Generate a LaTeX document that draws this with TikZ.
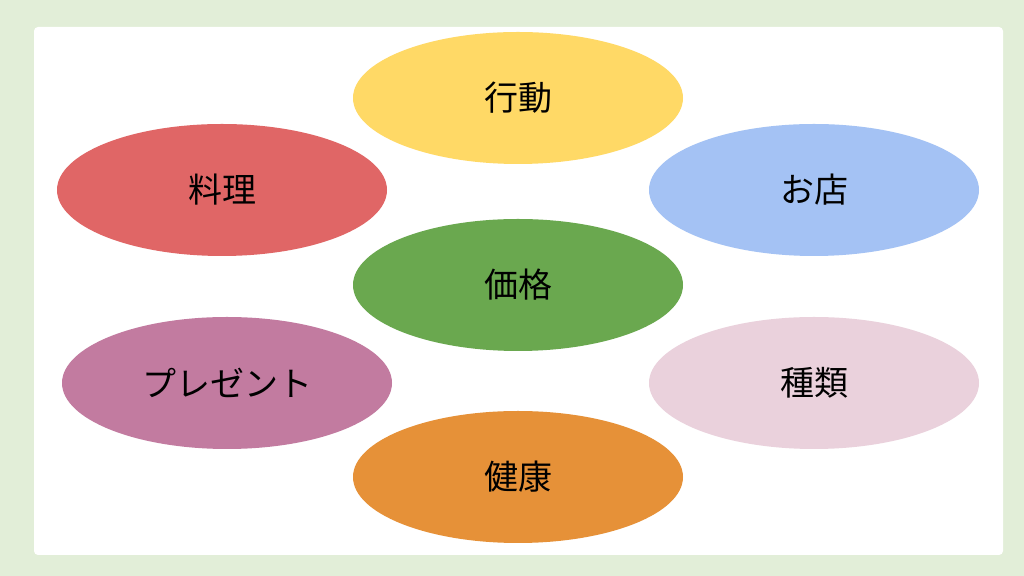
\documentclass[tikz,border=0pt]{standalone}
\usepackage{fontspec}
\setmainfont{Noto Sans CJK JP}
\usetikzlibrary{shapes.geometric}
\definecolor{pagegreen}{HTML}{E2EED8}
\definecolor{kyellow}{HTML}{FFD966}
\definecolor{kred}{HTML}{E06666}
\definecolor{kblue}{HTML}{A4C2F4}
\definecolor{kgreen}{HTML}{6AA84F}
\definecolor{kpurple}{HTML}{C27BA0}
\definecolor{kpink}{HTML}{EAD1DC}
\definecolor{korange}{HTML}{E69138}
\begin{document}
\begin{tikzpicture}[x=0.5pt,y=-0.5pt,every node/.style={ellipse,minimum width=165pt,minimum height=66pt,inner sep=0pt,font=\fontsize{17pt}{20pt}\selectfont}]
					\fill[pagegreen] (0,0) rectangle (1024,576);
					\fill[white,rounded corners=2pt] (34,27) rectangle (1003,555);
					% \foreach \i in {...}
					\node[fill=kyellow] (kodo) at (518,98){行動};
					\node[fill=kred] (ryori) at (222,190){料理};
					\node[fill=kblue] (mise) at (814,190){お店};
					\node[fill=kgreen] (kakaku) at (518,285){価格};
					\node[fill=kpurple] (present) at (227,383){プレゼント};
					\node[fill=kpink] (shurui) at (814,383){種類};
					\node[fill=korange] (kenko) at (518,477){健康};
					\end{tikzpicture}
\end{document}
